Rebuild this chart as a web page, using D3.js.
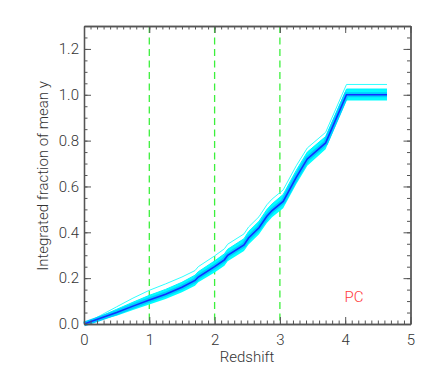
<!DOCTYPE html>
<html>
<head>
<meta charset="utf-8">
<script src="https://cdn.jsdelivr.net/npm/d3@7"></script>
<style>
  body { margin: 0; background: #fff; }
  text { font-family: Roboto, "DejaVu Sans", sans-serif; font-weight: 300; }
</style>
</head>
<body>
<script>
// redshift grid and integrated fraction
var zGrid    = [0, 0.25, 0.5, 0.75, 1.0, 1.25, 1.5, 1.7, 1.75, 2.0, 2.15, 2.2, 2.45, 2.52, 2.68, 2.8, 2.88, 3.05, 3.25, 3.42, 3.7, 4.02, 4.64];
var meanFrac = [0, 0.025, 0.05, 0.078, 0.105, 0.13, 0.16, 0.19, 0.205, 0.25, 0.28, 0.30, 0.345, 0.375, 0.42, 0.47, 0.495, 0.535, 0.64, 0.72, 0.79, 1.0, 1.0];
var bandLow  = [0, 0.017, 0.036, 0.061, 0.085, 0.109, 0.138, 0.167, 0.182, 0.225, 0.254, 0.274, 0.318, 0.347, 0.392, 0.441, 0.466, 0.505, 0.61, 0.69, 0.762, 0.975, 0.975];
var bandHigh = [0, 0.033, 0.064, 0.095, 0.125, 0.151, 0.182, 0.213, 0.228, 0.275, 0.306, 0.326, 0.372, 0.403, 0.448, 0.499, 0.524, 0.565, 0.67, 0.75, 0.818, 1.025, 1.025];
var outlier  = [0, 0.037, 0.075, 0.113, 0.147, 0.175, 0.205, 0.233, 0.25, 0.297, 0.328, 0.348, 0.393, 0.423, 0.468, 0.52, 0.545, 0.585, 0.69, 0.768, 0.836, 1.045, 1.045];
var vLines = [1, 2, 3];
var xTicks = [0, 1, 2, 3, 4, 5];
var yTicks = [0, 0.2, 0.4, 0.6, 0.8, 1.0, 1.2];

var W = 436, H = 378;
var pLeft = 84, pRight = 410.5, pTop = 26, pBottom = 324;
var fontSize = "15px";

var svg = d3.select("body").append("svg")
  .attr("width", W)
  .attr("height", H);

var x = d3.scaleLinear().domain([0, 5]).range([pLeft, pRight]);
var y = d3.scaleLinear().domain([0, 1.3]).range([pBottom, pTop]);

var rows = zGrid.map(function(z, i) {
  return {z: z, m: meanFrac[i], lo: bandLow[i], hi: bandHigh[i], o: outlier[i]};
});

//dashed redshift markers
svg.selectAll(".vline")
  .data(vLines)
  .enter().append("line")
  .attr("x1", function(d) { return x(d); })
  .attr("x2", function(d) { return x(d); })
  .attr("y1", pTop)
  .attr("y2", pBottom)
  .attr("stroke", "#3cf03c")
  .attr("stroke-width", 1.3)
  .attr("stroke-dasharray", "7,4.5");

//cyan band
var area = d3.area()
  .x(function(d) { return x(d.z); })
  .y0(function(d) { return y(d.lo); })
  .y1(function(d) { return y(d.hi); });
svg.append("path")
  .datum(rows)
  .attr("d", area)
  .attr("fill", "#00ffff");

function lineOf(key) {
  return d3.line()
    .x(function(d) { return x(d.z); })
    .y(function(d) { return y(d[key]); });
}

svg.append("path").datum(rows).attr("d", lineOf("o"))
  .attr("fill", "none").attr("stroke", "#30ffff").attr("stroke-width", 1);
svg.append("path").datum(rows).attr("d", lineOf("hi"))
  .attr("fill", "none").attr("stroke", "#00f0ff").attr("stroke-width", 1);
svg.append("path").datum(rows).attr("d", lineOf("m"))
  .attr("fill", "none").attr("stroke", "#00ccff").attr("stroke-width", 5);
svg.append("path").datum(rows).attr("d", lineOf("m"))
  .attr("fill", "none").attr("stroke", "#1030ff").attr("stroke-width", 1.6);

//axes: major + minor ticks on all four sides, pointing inward
function styleAxis(g) {
  g.select(".domain").attr("stroke", "#555").attr("stroke-width", 1.3);
  g.selectAll(".tick line").attr("stroke", "#555");
  g.selectAll(".tick text").attr("fill", "#333").style("font-size", fontSize)
    .style("font-family", "Roboto, DejaVu Sans, sans-serif").style("font-weight", 300);
}

var xMinor = d3.range(0, 5.0001, 0.1);
var yMinor = d3.range(0, 1.3001, 0.05);

svg.append("g").attr("transform", "translate(0," + pBottom + ")")
  .call(d3.axisBottom(x).tickValues(xMinor).tickSize(-3.5).tickFormat("").tickSizeOuter(0)).call(styleAxis);
svg.append("g").attr("transform", "translate(0," + pBottom + ")")
  .call(d3.axisBottom(x).tickValues(xTicks).tickSize(-7).tickPadding(10).tickFormat(d3.format("d")).tickSizeOuter(0))
  .call(styleAxis);
svg.append("g").attr("transform", "translate(0," + pTop + ")")
  .call(d3.axisTop(x).tickValues(xMinor).tickSize(-3.5).tickFormat("").tickSizeOuter(0)).call(styleAxis);
svg.append("g").attr("transform", "translate(0," + pTop + ")")
  .call(d3.axisTop(x).tickValues(xTicks).tickSize(-7).tickFormat("").tickSizeOuter(0)).call(styleAxis);

svg.append("g").attr("transform", "translate(" + pLeft + ",0)")
  .call(d3.axisLeft(y).tickValues(yMinor).tickSize(-3.5).tickFormat("").tickSizeOuter(0)).call(styleAxis);
svg.append("g").attr("transform", "translate(" + pLeft + ",0)")
  .call(d3.axisLeft(y).tickValues(yTicks).tickSize(-7).tickPadding(5).tickFormat(d3.format(".1f")).tickSizeOuter(0))
  .call(styleAxis);
svg.append("g").attr("transform", "translate(" + pRight + ",0)")
  .call(d3.axisRight(y).tickValues(yMinor).tickSize(-3.5).tickFormat("").tickSizeOuter(0)).call(styleAxis);
svg.append("g").attr("transform", "translate(" + pRight + ",0)")
  .call(d3.axisRight(y).tickValues(yTicks).tickSize(-7).tickFormat("").tickSizeOuter(0)).call(styleAxis);

//axis titles
svg.append("text")
  .attr("x", 247)
  .attr("y", 362)
  .attr("text-anchor", "middle")
  .attr("fill", "#333")
  .style("font-size", fontSize)
  .text("Redshift");

svg.append("text")
  .attr("transform", "translate(48,176) rotate(-90)")
  .attr("text-anchor", "middle")
  .attr("fill", "#333")
  .style("font-size", fontSize)
  .text("Integrated fraction of mean y");

svg.append("text")
  .attr("x", 354)
  .attr("y", 302)
  .attr("text-anchor", "middle")
  .attr("fill", "#ff3b3b")
  .style("font-size", fontSize)
  .text("PC");
</script>
</body>
</html>
